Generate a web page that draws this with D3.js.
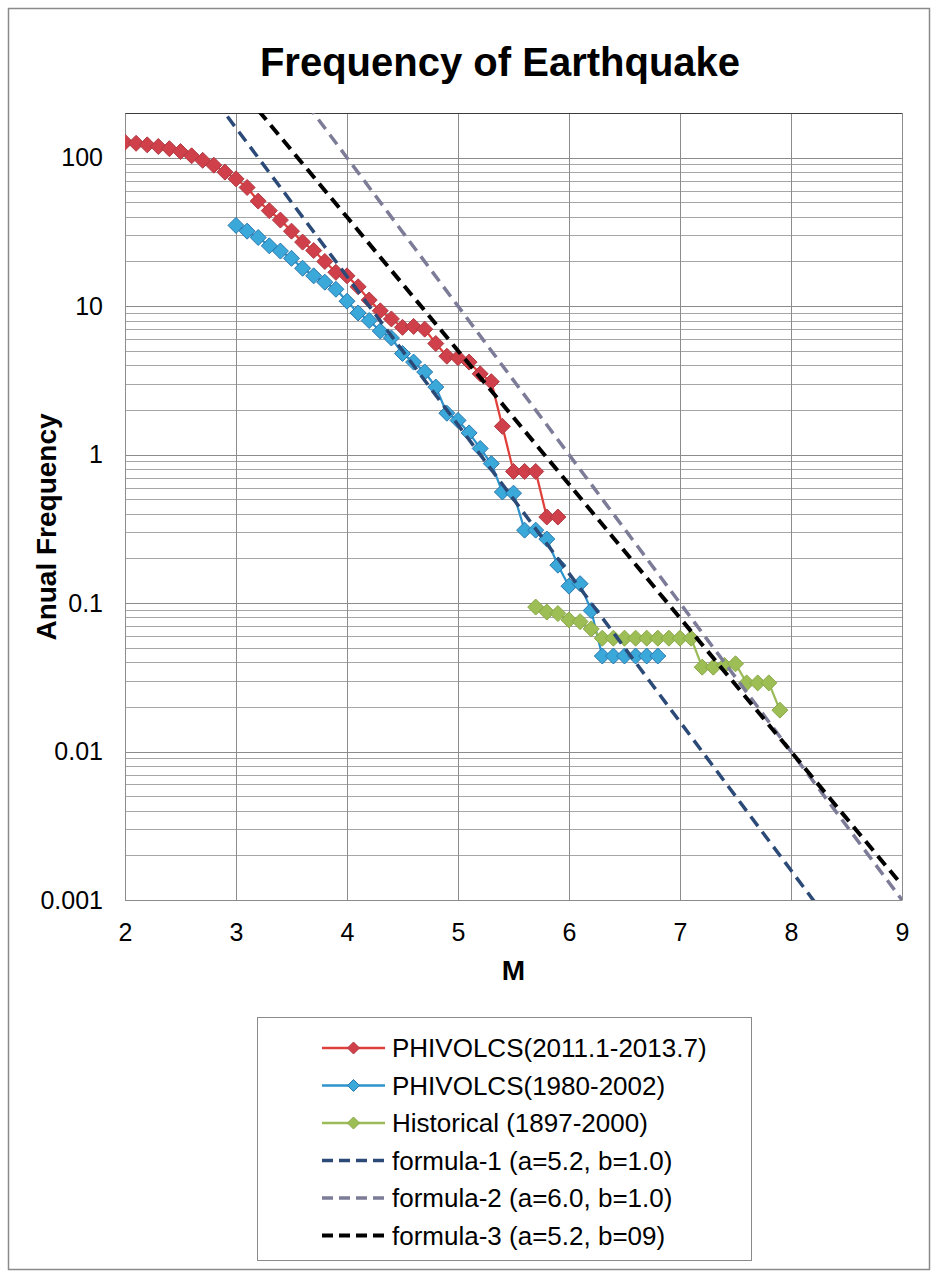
<!DOCTYPE html>
<html>
<head>
<meta charset="utf-8">
<script src="https://cdn.jsdelivr.net/npm/d3@7/dist/d3.min.js"></script>
<style>
  html, body { margin: 0; padding: 0; background: #fff; }
  svg { display: block; font-family: "Liberation Sans", Arial, sans-serif; }
</style>
</head>
<body>
<svg id="chart" width="938" height="1278"></svg>
<script>
// Magnitude steps for each observed catalogue
const magRecent = [2.0,2.1,2.2,2.3,2.4,2.5,2.6,2.7,2.8,2.9,3.0,3.1,3.2,3.3,3.4,3.5,3.6,3.7,3.8,3.9,
                   4.0,4.1,4.2,4.3,4.4,4.5,4.6,4.7,4.8,4.9,5.0,5.1,5.2,5.3,5.4,5.5,5.6,5.7,5.8,5.9];
const freqRecent = [127,125,122,119,115,110,103,96,89,80,72,63,51,44,38,32,27,23.7,20,16.9,
                    16,13.5,11,9.3,8.2,7.2,7.3,7.0,5.6,4.6,4.5,4.2,3.5,3.1,1.55,0.77,0.77,0.77,0.38,0.38];

const magOld = [3.0,3.1,3.2,3.3,3.4,3.5,3.6,3.7,3.8,3.9,4.0,4.1,4.2,4.3,4.4,4.5,4.6,4.7,4.8,4.9,
                5.0,5.1,5.2,5.3,5.4,5.5,5.6,5.7,5.8,5.9,6.0,6.1,6.2,6.3,6.4,6.5,6.6,6.7,6.8];
const freqOld = [35,32,29,25.5,23.5,21,18,16,14.5,13,10.8,9,8,6.8,6.1,4.8,4.2,3.6,2.85,1.9,
                 1.7,1.4,1.1,0.87,0.56,0.55,0.31,0.31,0.27,0.18,0.13,0.135,0.089,0.044,0.044,0.044,0.044,0.044,0.044];

const magHist = [5.7,5.8,5.9,6.0,6.1,6.2,6.3,6.4,6.5,6.6,6.7,6.8,6.9,7.0,7.1,7.2,7.3,7.4,7.5,7.6,7.7,7.8,7.9];
const freqHist = [0.094,0.087,0.085,0.077,0.075,0.067,0.058,0.058,0.058,0.058,0.058,0.058,0.058,0.058,0.058,
                  0.037,0.037,0.038,0.039,0.029,0.029,0.029,0.019];

// Gutenberg-Richter reference lines, sampled at whole magnitudes
const magFormula = [2,3,4,5,6,7,8,9];
const freqFormula1 = [1585,158.5,15.85,1.585,0.1585,0.01585,0.001585,0.0001585];
const freqFormula2 = [10000,1000,100,10,1,0.1,0.01,0.001];
const freqFormula3 = [2512,316.2,39.81,5.012,0.631,0.0794,0.01,0.00126];

const seriesNames = [
  "PHIVOLCS(2011.1-2013.7)",
  "PHIVOLCS(1980-2002)",
  "Historical (1897-2000)",
  "formula-1 (a=5.2, b=1.0)",
  "formula-2 (a=6.0, b=1.0)",
  "formula-3 (a=5.2, b=09)"
];

const xTicks = [2,3,4,5,6,7,8,9];
const yTicks = [0.001,0.01,0.1,1,10,100];
const yTickLabels = ["0.001","0.01","0.1","1","10","100"];

const svg = d3.select("#chart");
const W = 938, H = 1278;
const plot = {left: 125, right: 902, top: 113, bottom: 900};

const x = d3.scaleLinear().domain([2, 9]).range([plot.left, plot.right]);
const y = d3.scaleLog().domain([0.001, 200]).range([plot.bottom, plot.top]);

// outer chart frame
svg.append("rect")
  .attr("x", 8.5).attr("y", 8.5).attr("width", W - 17).attr("height", H - 17)
  .attr("fill", "#fff").attr("stroke", "#8a8a8a").attr("stroke-width", 1.5);

// title
svg.append("text")
  .attr("x", 500).attr("y", 76)
  .attr("text-anchor", "middle")
  .attr("font-size", 40).attr("font-weight", "bold")
  .text("Frequency of Earthquake");

// clip for the plotted curves
svg.append("defs").append("clipPath").attr("id", "plotClip")
  .append("rect")
  .attr("x", plot.left).attr("y", plot.top)
  .attr("width", plot.right - plot.left).attr("height", plot.bottom - plot.top);

// gridlines: minor then major
const grid = svg.append("g");
const minorVals = [];
for (let e = -3; e <= 2; e++) {
  for (let k = 2; k <= 9; k++) {
    const v = k * Math.pow(10, e);
    if (v <= 200) minorVals.push(v);
  }
}
grid.selectAll("line.minor").data(minorVals).join("line")
  .attr("x1", plot.left).attr("x2", plot.right)
  .attr("y1", d => Math.round(y(d)) + 0.5).attr("y2", d => Math.round(y(d)) + 0.5)
  .attr("stroke", "#a6a6a6").attr("stroke-width", 1);
grid.selectAll("line.major").data(yTicks).join("line")
  .attr("x1", plot.left).attr("x2", plot.right)
  .attr("y1", d => Math.round(y(d)) + 0.5).attr("y2", d => Math.round(y(d)) + 0.5)
  .attr("stroke", "#8c8c8c").attr("stroke-width", 1);
grid.selectAll("line.vert").data(xTicks).join("line")
  .attr("x1", d => Math.round(x(d)) + 0.5).attr("x2", d => Math.round(x(d)) + 0.5)
  .attr("y1", plot.top).attr("y2", plot.bottom)
  .attr("stroke", "#8c8c8c").attr("stroke-width", 1);
// top edge of plot area
grid.append("line")
  .attr("x1", plot.left).attr("x2", plot.right)
  .attr("y1", plot.top + 0.5).attr("y2", plot.top + 0.5)
  .attr("stroke", "#3a3a3a").attr("stroke-width", 1);

// axes (labels only; lines are the gridlines above)
const xAxis = svg.append("g")
  .attr("transform", `translate(0,${plot.bottom})`)
  .call(d3.axisBottom(x).tickValues(xTicks).tickFormat(d3.format("d")).tickSize(0).tickPadding(23));
xAxis.select(".domain").attr("stroke", "#8c8c8c");
xAxis.selectAll("text").attr("font-size", 25).attr("fill", "#000")
  .attr("font-family", "Liberation Sans, Arial, sans-serif");

const yAxis = svg.append("g")
  .attr("transform", `translate(${plot.left},0)`)
  .call(d3.axisLeft(y).tickValues(yTicks).tickFormat((d, i) => yTickLabels[i]).tickSize(0).tickPadding(22));
yAxis.select(".domain").attr("stroke", "#8c8c8c");
yAxis.selectAll("text").attr("font-size", 25).attr("fill", "#000")
  .attr("font-family", "Liberation Sans, Arial, sans-serif");

// axis titles
svg.append("text")
  .attr("x", x(5.5)).attr("y", 980)
  .attr("text-anchor", "middle")
  .attr("font-size", 28).attr("font-weight", "bold")
  .text("M");
svg.append("text")
  .attr("transform", "translate(56,527) rotate(-90)")
  .attr("text-anchor", "middle")
  .attr("font-size", 28).attr("font-weight", "bold")
  .text("Anual Frequency");

// series styles
const observed = [
  {mag: magRecent, freq: freqRecent, line: "#e0403c", fill: "#d0404a", edge: "#b03a42"},
  {mag: magOld, freq: freqOld, line: "#2f93cc", fill: "#3aa8d8", edge: "#2a78b0"},
  {mag: magHist, freq: freqHist, line: "#9bbb59", fill: "#9dbd55", edge: "#89a848"}
];
const formulas = [
  {freq: freqFormula1, color: "#2c4a78", width: 3.5},
  {freq: freqFormula2, color: "#7c7c98", width: 3.5},
  {freq: freqFormula3, color: "#000000", width: 4}
];

const lineGen = d3.line().x(d => x(d[0])).y(d => y(d[1]));
const diamond = (cx, cy, r) => `M${cx},${cy - r}L${cx + r},${cy}L${cx},${cy + r}L${cx - r},${cy}Z`;

const curves = svg.append("g").attr("clip-path", "url(#plotClip)");

observed.forEach(s => {
  const pts = s.mag.map((m, i) => [m, s.freq[i]]);
  curves.append("path")
    .attr("d", lineGen(pts))
    .attr("fill", "none").attr("stroke", s.line).attr("stroke-width", 2.25);
  curves.append("g").selectAll("path").data(pts).join("path")
    .attr("d", d => diamond(x(d[0]), y(d[1]), 8))
    .attr("fill", s.fill).attr("stroke", s.edge).attr("stroke-width", 1);
});

formulas.forEach(f => {
  const pts = magFormula.map((m, i) => [m, f.freq[i]]);
  curves.append("path")
    .attr("d", lineGen(pts))
    .attr("fill", "none").attr("stroke", f.color).attr("stroke-width", f.width)
    .attr("stroke-dasharray", "12,7");
});

// legend
const lg = svg.append("g");
lg.append("rect")
  .attr("x", 257.5).attr("y", 1017.5).attr("width", 494).attr("height", 243)
  .attr("fill", "#fff").attr("stroke", "#8a8a8a").attr("stroke-width", 1);

const rowY = i => 1048 + i * 37.5;
const sampleX0 = 322, sampleX1 = 385;

seriesNames.forEach((name, i) => {
  const cy = rowY(i);
  if (i < 3) {
    const s = observed[i];
    lg.append("line")
      .attr("x1", sampleX0).attr("x2", sampleX1).attr("y1", cy).attr("y2", cy)
      .attr("stroke", s.line).attr("stroke-width", 2.5);
    lg.append("path")
      .attr("d", diamond((sampleX0 + sampleX1) / 2, cy, 6))
      .attr("fill", s.fill).attr("stroke", s.edge).attr("stroke-width", 1);
  } else {
    const f = formulas[i - 3];
    lg.append("line")
      .attr("x1", sampleX0).attr("x2", sampleX1 + 2).attr("y1", cy).attr("y2", cy)
      .attr("stroke", f.color).attr("stroke-width", f.width)
      .attr("stroke-dasharray", "11,6");
  }
  lg.append("text")
    .attr("x", 392).attr("y", cy).attr("dy", "0.35em")
    .attr("font-size", 26).attr("fill", "#000")
    .text(name);
});
</script>
</body>
</html>
